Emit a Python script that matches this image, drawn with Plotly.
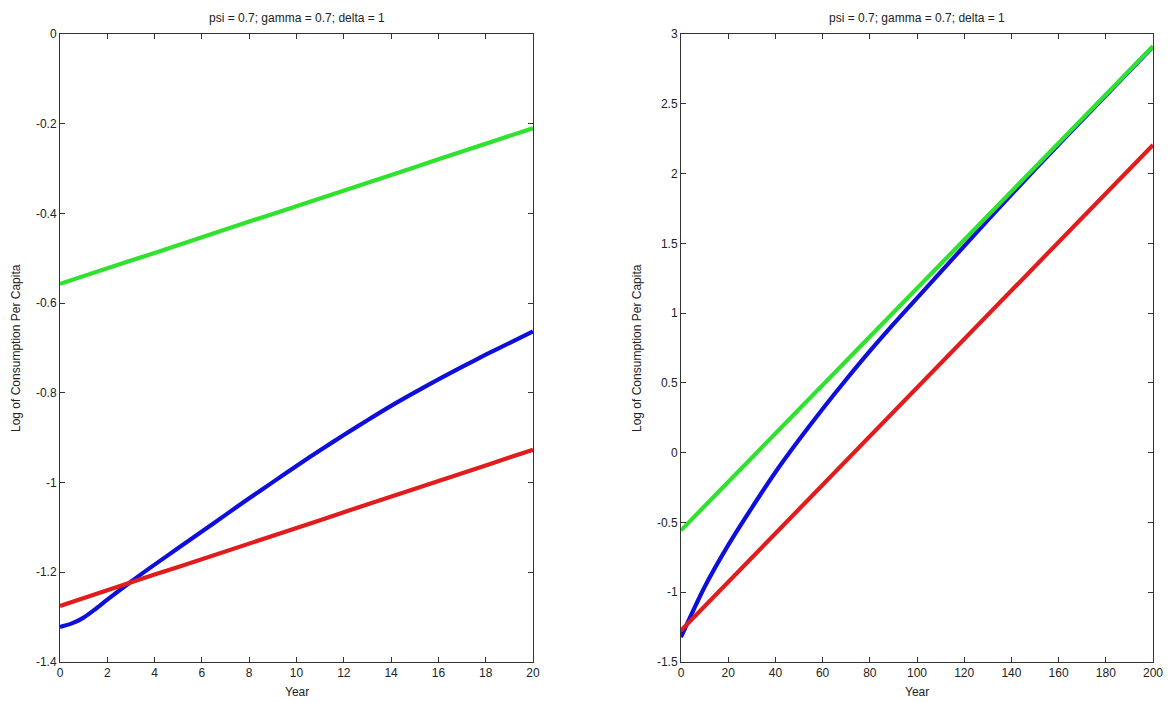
import plotly.graph_objects as go

# ---- data ----
years = [0, 0.5, 1, 1.5, 2, 3, 4, 5, 6, 7, 8, 9, 10, 11, 12, 13, 14, 15, 16, 17, 18, 19, 20,
         30, 40, 50, 60, 70, 80, 90, 100, 110, 120, 130, 140, 150, 160, 170, 180, 190, 200]

blue = [-1.322, -1.314, -1.301, -1.282, -1.261, -1.221, -1.183, -1.146, -1.109, -1.072, -1.035,
        -0.999, -0.963, -0.928, -0.894, -0.861, -0.829, -0.799, -0.770, -0.742, -0.715, -0.689, -0.663,
        -0.395, -0.140, 0.092, 0.313, 0.524, 0.727, 0.921, 1.108, 1.294, 1.480, 1.666, 1.849,
        2.030, 2.207, 2.384, 2.559, 2.735, 2.909]

green = [-0.557, -0.548, -0.540, -0.531, -0.522, -0.505, -0.488, -0.470, -0.453, -0.436, -0.418,
         -0.401, -0.384, -0.366, -0.349, -0.331, -0.314, -0.297, -0.279, -0.262, -0.245, -0.227, -0.210,
         -0.036, 0.137, 0.311, 0.484, 0.658, 0.831, 1.005, 1.178, 1.352, 1.525, 1.699, 1.872,
         2.046, 2.219, 2.393, 2.566, 2.740, 2.913]

red = [-1.275, -1.266, -1.258, -1.249, -1.240, -1.223, -1.205, -1.188, -1.171, -1.153, -1.136,
       -1.118, -1.101, -1.084, -1.066, -1.049, -1.031, -1.014, -0.997, -0.979, -0.962, -0.944, -0.927,
       -0.753, -0.579, -0.405, -0.231, -0.057, 0.117, 0.291, 0.465, 0.639, 0.813, 0.987, 1.161,
       1.335, 1.509, 1.683, 1.857, 2.031, 2.205]

title_text = "psi = 0.7; gamma = 0.7; delta = 1"
xlabel = "Year"
ylabel = "Log of Consumption Per Capita"

left_xticks = [0, 2, 4, 6, 8, 10, 12, 14, 16, 18, 20]
left_yticks = [0, -0.2, -0.4, -0.6, -0.8, -1, -1.2, -1.4]
left_ytext = ["0", "-0.2", "-0.4", "-0.6", "-0.8", "-1", "-1.2", "-1.4"]
right_xticks = [0, 20, 40, 60, 80, 100, 120, 140, 160, 180, 200]
right_yticks = [3, 2.5, 2, 1.5, 1, 0.5, 0, -0.5, -1, -1.5]
right_ytext = ["3", "2.5", "2", "1.5", "1", "0.5", "0", "-0.5", "-1", "-1.5"]

# ---- figure ----
W, H = 1170, 702
C_BLUE = "#0f0fdc"
C_GREEN = "#2ee22e"
C_RED = "#e01c1c"
LW = 4.2

# zoomed panel: years 0..20 ; full panel: the 10-year points
left_idx = [i for i, y in enumerate(years) if y <= 20]
right_idx = [i for i, y in enumerate(years) if y % 10 == 0]


def pick(arr, idx):
    return [arr[i] for i in idx]


fig = go.Figure()
for idx, xa, ya in [(left_idx, "x", "y"), (right_idx, "x2", "y2")]:
    for arr, col, shape in [(blue, C_BLUE, "spline"), (green, C_GREEN, "linear"), (red, C_RED, "linear")]:
        line = dict(color=col, width=LW, shape=shape)
        if shape == "spline":
            line["smoothing"] = 0.8
        fig.add_trace(go.Scatter(x=pick(years, idx), y=pick(arr, idx), mode="lines", line=line,
                                 xaxis=xa, yaxis=ya, showlegend=False, hoverinfo="skip"))

ax_common = dict(showgrid=False, zeroline=False, showline=True, linecolor="#333333", linewidth=1,
                 mirror="ticks", ticks="inside", ticklen=5, tickcolor="#333333", tickwidth=1,
                 automargin=False,
                 tickfont=dict(family="Liberation Sans, Arial, sans-serif", size=12, color="#222222"))

L0, L1 = 60 / W, 533 / W
R0, R1 = 681 / W, 1153 / W
Y0, Y1 = 1 - 662 / H, 1 - 34 / H

fig.update_layout(
    width=W, height=H, margin=dict(l=0, r=0, t=0, b=0, pad=0),
    paper_bgcolor="white", plot_bgcolor="white",
    xaxis=dict(domain=[L0, L1], range=[0, 20], tickvals=left_xticks, anchor="y", **ax_common),
    yaxis=dict(domain=[Y0, Y1], range=[-1.4, 0], tickvals=left_yticks, ticktext=left_ytext, anchor="x", **ax_common),
    xaxis2=dict(domain=[R0, R1], range=[0, 200], tickvals=right_xticks, anchor="y2", **ax_common),
    yaxis2=dict(domain=[Y0, Y1], range=[-1.5, 3], tickvals=right_yticks, ticktext=right_ytext, anchor="x2", **ax_common),
)

font_t = dict(family="Liberation Sans, Arial, sans-serif", size=12, color="#222222")
anns = []
for cx, yx in [((L0 + L1) / 2, 16 / W), ((R0 + R1) / 2, 637 / W)]:
    anns.append(dict(text=title_text, x=cx, y=1 - 18 / H, xref="paper", yref="paper",
                     showarrow=False, font=font_t, xanchor="center", yanchor="middle"))
    anns.append(dict(text=xlabel, x=cx, y=1 - 692 / H, xref="paper", yref="paper",
                     showarrow=False, font=font_t, xanchor="center", yanchor="middle"))
    anns.append(dict(text=ylabel, x=yx, y=(Y0 + Y1) / 2, xref="paper", yref="paper", textangle=-90,
                     showarrow=False, font=font_t, xanchor="center", yanchor="middle"))
fig.update_layout(annotations=anns)

fig.write_html("out.html", config={"displayModeBar": False},
               post_script="document.body.style.margin='0px';document.body.style.overflow='hidden';")
